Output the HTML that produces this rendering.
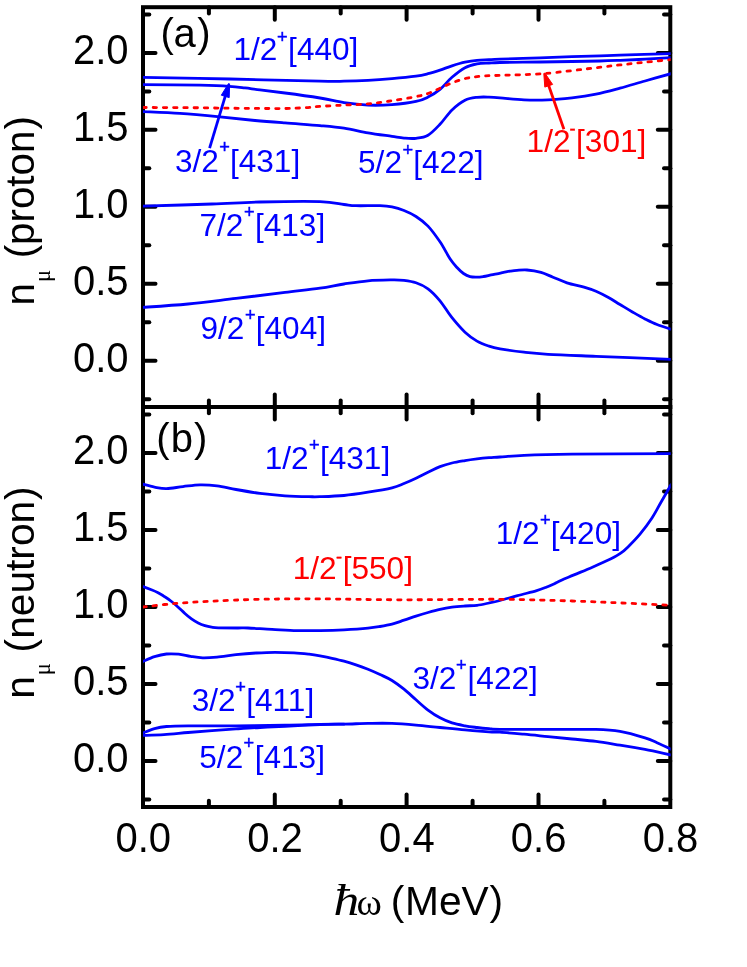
<!DOCTYPE html>
<html><head><meta charset="utf-8"><title>chart</title>
<style>
html,body{margin:0;padding:0;background:#fff;}
body{width:747px;height:967px;overflow:hidden;}
svg{display:block;will-change:transform;}
text{font-family:"Liberation Sans",sans-serif;}
.ax{font-size:40px;fill:#000;}
.lb{font-size:30px;}
.sup{font-size:19.5px;}
.ser{font-family:"Liberation Serif",serif;}
</style></head><body>
<svg width="747" height="967" viewBox="0 0 747 967">
<rect x="0" y="0" width="747" height="967" fill="#fff"/>
<defs>
<clipPath id="ca"><rect x="143.0" y="7.2" width="527.7" height="399.7"/></clipPath>
<clipPath id="cb"><rect x="143.0" y="406.9" width="527.7" height="400.1"/></clipPath>
</defs>
<g stroke="#000" stroke-width="4.0" fill="none" stroke-linecap="square">
<rect x="143.0" y="7.2" width="527.3" height="799.8"/>
<line x1="143.0" y1="406.9" x2="670.3" y2="406.9"/>
</g>
<g stroke="#000" stroke-width="4.0" stroke-linecap="round">
<line x1="208.9" y1="7.2" x2="208.9" y2="13.5"/>
<line x1="208.9" y1="400.6" x2="208.9" y2="413.2"/>
<line x1="208.9" y1="807.0" x2="208.9" y2="800.7"/>
<line x1="274.8" y1="7.2" x2="274.8" y2="19.7"/>
<line x1="274.8" y1="394.4" x2="274.8" y2="419.4"/>
<line x1="274.8" y1="807.0" x2="274.8" y2="794.5"/>
<line x1="340.7" y1="7.2" x2="340.7" y2="13.5"/>
<line x1="340.7" y1="400.6" x2="340.7" y2="413.2"/>
<line x1="340.7" y1="807.0" x2="340.7" y2="800.7"/>
<line x1="406.6" y1="7.2" x2="406.6" y2="19.7"/>
<line x1="406.6" y1="394.4" x2="406.6" y2="419.4"/>
<line x1="406.6" y1="807.0" x2="406.6" y2="794.5"/>
<line x1="472.6" y1="7.2" x2="472.6" y2="13.5"/>
<line x1="472.6" y1="400.6" x2="472.6" y2="413.2"/>
<line x1="472.6" y1="807.0" x2="472.6" y2="800.7"/>
<line x1="538.5" y1="7.2" x2="538.5" y2="19.7"/>
<line x1="538.5" y1="394.4" x2="538.5" y2="419.4"/>
<line x1="538.5" y1="807.0" x2="538.5" y2="794.5"/>
<line x1="604.4" y1="7.2" x2="604.4" y2="13.5"/>
<line x1="604.4" y1="400.6" x2="604.4" y2="413.2"/>
<line x1="604.4" y1="807.0" x2="604.4" y2="800.7"/>
<line x1="143.0" y1="399.2" x2="149.3" y2="399.2"/>
<line x1="670.3" y1="399.2" x2="664.0" y2="399.2"/>
<line x1="143.0" y1="360.7" x2="155.5" y2="360.7"/>
<line x1="670.3" y1="360.7" x2="657.8" y2="360.7"/>
<line x1="143.0" y1="322.2" x2="149.3" y2="322.2"/>
<line x1="670.3" y1="322.2" x2="664.0" y2="322.2"/>
<line x1="143.0" y1="283.8" x2="155.5" y2="283.8"/>
<line x1="670.3" y1="283.8" x2="657.8" y2="283.8"/>
<line x1="143.0" y1="245.3" x2="149.3" y2="245.3"/>
<line x1="670.3" y1="245.3" x2="664.0" y2="245.3"/>
<line x1="143.0" y1="206.8" x2="155.5" y2="206.8"/>
<line x1="670.3" y1="206.8" x2="657.8" y2="206.8"/>
<line x1="143.0" y1="168.3" x2="149.3" y2="168.3"/>
<line x1="670.3" y1="168.3" x2="664.0" y2="168.3"/>
<line x1="143.0" y1="129.8" x2="155.5" y2="129.8"/>
<line x1="670.3" y1="129.8" x2="657.8" y2="129.8"/>
<line x1="143.0" y1="91.4" x2="149.3" y2="91.4"/>
<line x1="670.3" y1="91.4" x2="664.0" y2="91.4"/>
<line x1="143.0" y1="52.9" x2="155.5" y2="52.9"/>
<line x1="670.3" y1="52.9" x2="657.8" y2="52.9"/>
<line x1="143.0" y1="14.4" x2="149.3" y2="14.4"/>
<line x1="670.3" y1="14.4" x2="664.0" y2="14.4"/>
<line x1="143.0" y1="799.4" x2="149.3" y2="799.4"/>
<line x1="670.3" y1="799.4" x2="664.0" y2="799.4"/>
<line x1="143.0" y1="760.9" x2="155.5" y2="760.9"/>
<line x1="670.3" y1="760.9" x2="657.8" y2="760.9"/>
<line x1="143.0" y1="722.4" x2="149.3" y2="722.4"/>
<line x1="670.3" y1="722.4" x2="664.0" y2="722.4"/>
<line x1="143.0" y1="683.9" x2="155.5" y2="683.9"/>
<line x1="670.3" y1="683.9" x2="657.8" y2="683.9"/>
<line x1="143.0" y1="645.5" x2="149.3" y2="645.5"/>
<line x1="670.3" y1="645.5" x2="664.0" y2="645.5"/>
<line x1="143.0" y1="607.0" x2="155.5" y2="607.0"/>
<line x1="670.3" y1="607.0" x2="657.8" y2="607.0"/>
<line x1="143.0" y1="568.5" x2="149.3" y2="568.5"/>
<line x1="670.3" y1="568.5" x2="664.0" y2="568.5"/>
<line x1="143.0" y1="530.0" x2="155.5" y2="530.0"/>
<line x1="670.3" y1="530.0" x2="657.8" y2="530.0"/>
<line x1="143.0" y1="491.6" x2="149.3" y2="491.6"/>
<line x1="670.3" y1="491.6" x2="664.0" y2="491.6"/>
<line x1="143.0" y1="453.1" x2="155.5" y2="453.1"/>
<line x1="670.3" y1="453.1" x2="657.8" y2="453.1"/>
<line x1="143.0" y1="414.6" x2="149.3" y2="414.6"/>
<line x1="670.3" y1="414.6" x2="664.0" y2="414.6"/>
</g>
<g clip-path="url(#ca)" fill="none" stroke-width="2.8" stroke-linejoin="round" stroke-linecap="round">
<path d="M143.0 77.3C157.5 77.6 200.5 78.3 230.0 79.0C259.5 79.7 301.0 80.8 320.0 81.2C339.0 81.6 336.0 81.4 344.0 81.2C352.0 81.0 360.0 80.7 368.0 80.3C376.0 79.9 384.0 79.3 392.0 78.6C400.0 77.9 410.0 76.9 416.0 76.1C422.0 75.3 424.0 74.7 428.0 73.7C432.0 72.7 436.0 71.4 440.0 70.1C444.0 68.8 447.8 67.1 452.0 65.8C456.2 64.5 460.8 63.1 465.0 62.2C469.2 61.3 473.0 60.7 477.0 60.3C481.0 59.9 485.2 59.9 489.0 59.7C492.8 59.5 491.5 59.5 500.0 59.2C508.5 58.9 528.0 58.2 540.0 57.8C552.0 57.4 562.0 57.0 572.0 56.7C582.0 56.4 592.0 56.1 600.0 55.8C608.0 55.5 608.2 55.5 620.0 55.1C631.8 54.8 662.5 53.9 671.0 53.7" stroke="#0000ff"/>
<path d="M143.0 84.6C152.5 84.7 185.7 84.9 200.0 85.2C214.3 85.5 221.5 85.8 229.0 86.3C236.5 86.8 239.8 87.3 245.0 87.9C250.2 88.5 253.3 89.1 260.0 89.9C266.7 90.8 275.0 91.7 285.0 93.0C295.0 94.3 310.2 96.4 320.0 98.0C329.8 99.6 336.0 101.5 344.0 102.7C352.0 103.9 360.0 104.8 368.0 105.1C376.0 105.4 384.0 105.2 392.0 104.6C400.0 104.0 410.0 102.7 416.0 101.4C422.0 100.2 424.0 99.1 428.0 97.1C432.0 95.1 436.0 92.7 440.0 89.4C444.0 86.1 447.8 80.9 452.0 77.3C456.2 73.7 460.8 69.9 465.0 67.7C469.2 65.5 473.0 64.7 477.0 63.9C481.0 63.1 485.2 63.2 489.0 63.0C492.8 62.8 491.5 62.7 500.0 62.5C508.5 62.3 528.0 62.2 540.0 62.0C552.0 61.8 562.0 61.7 572.0 61.5C582.0 61.3 592.0 61.2 600.0 61.0C608.0 60.8 612.5 60.6 620.0 60.3C627.5 60.0 636.5 59.6 645.0 59.2C653.5 58.8 666.7 58.0 671.0 57.7" stroke="#0000ff"/>
<path d="M143.0 107.5C152.5 107.5 182.2 107.6 200.0 107.8C217.8 108.0 235.8 108.3 250.0 108.4C264.2 108.5 275.8 108.6 285.0 108.5C294.2 108.4 299.2 108.0 305.0 107.7C310.8 107.4 313.5 106.8 320.0 106.4C326.5 106.0 336.0 105.5 344.0 105.1C352.0 104.7 360.0 104.6 368.0 103.9C376.0 103.2 384.0 101.9 392.0 100.7C400.0 99.5 410.0 97.8 416.0 96.6C422.0 95.4 424.0 94.9 428.0 93.5C432.0 92.1 436.0 90.0 440.0 88.2C444.0 86.4 447.8 84.5 452.0 82.9C456.2 81.3 460.8 79.6 465.0 78.6C469.2 77.5 473.0 77.1 477.0 76.6C481.0 76.1 485.2 75.9 489.0 75.7C492.8 75.5 490.9 75.7 500.0 75.3C509.1 74.9 527.7 74.9 543.7 73.6C559.7 72.3 583.3 69.2 596.0 67.7C608.7 66.2 611.8 65.8 620.0 64.9C628.2 64.0 636.5 63.1 645.0 62.2C653.5 61.3 666.7 60.0 671.0 59.6" stroke="#ff0000" stroke-dasharray="3.4 6.8"/>
<path d="M143.0 111.6C149.2 111.9 167.2 112.5 180.0 113.4C192.8 114.3 207.5 115.7 220.0 116.9C232.5 118.1 244.2 119.5 255.0 120.5C265.8 121.5 274.2 122.1 285.0 122.9C295.8 123.8 310.2 124.7 320.0 125.6C329.8 126.5 336.0 127.0 344.0 128.2C352.0 129.4 360.0 131.4 368.0 132.8C376.0 134.2 386.0 135.5 392.0 136.4C398.0 137.3 400.0 137.8 404.0 138.1C408.0 138.4 412.0 138.8 416.0 138.3C420.0 137.8 424.0 137.5 428.0 135.2C432.0 132.9 436.0 128.5 440.0 124.3C444.0 120.1 447.8 113.9 452.0 109.9C456.2 105.9 460.8 102.3 465.0 100.2C469.2 98.1 473.0 97.8 477.0 97.3C481.0 96.8 485.2 97.0 489.0 97.1C492.8 97.2 494.2 97.3 500.0 97.8C505.8 98.2 516.0 99.5 524.0 99.8C532.0 100.1 540.0 100.1 548.0 99.8C556.0 99.5 564.0 98.7 572.0 97.8C580.0 96.9 588.0 95.8 596.0 94.2C604.0 92.6 611.8 90.4 620.0 88.2C628.2 86.0 636.5 83.4 645.0 81.0C653.5 78.6 666.7 74.9 671.0 73.7" stroke="#0000ff"/>
<path d="M143.0 206.1C154.5 205.8 192.5 204.7 212.0 204.0C231.5 203.3 242.0 202.4 260.0 202.0C278.0 201.6 306.0 201.2 320.0 201.6C334.0 202.0 338.0 203.8 344.0 204.5C350.0 205.2 350.0 205.5 356.0 205.7C362.0 205.9 374.0 205.5 380.0 205.7C386.0 205.9 388.0 206.1 392.0 206.9C396.0 207.7 400.0 208.9 404.0 210.5C408.0 212.1 412.0 213.9 416.0 216.5C420.0 219.1 424.0 221.9 428.0 226.1C432.0 230.3 436.3 236.4 440.0 241.8C443.7 247.2 447.2 254.5 450.0 258.8C452.8 263.1 454.8 265.1 457.0 267.5C459.2 269.9 461.3 272.0 463.5 273.5C465.7 275.0 467.8 276.0 470.0 276.6C472.2 277.2 474.8 277.1 477.0 277.1C479.2 277.1 481.3 276.8 483.5 276.5C485.7 276.2 487.8 275.6 490.0 275.1C492.2 274.7 494.7 274.2 497.0 273.8C499.3 273.4 501.4 272.8 503.6 272.4C505.8 272.0 507.8 271.5 510.0 271.2C512.2 270.9 514.2 270.6 517.0 270.4C519.8 270.2 523.0 269.7 527.0 270.0C531.0 270.3 536.7 271.2 541.0 272.4C545.3 273.6 548.7 275.5 553.0 277.2C557.3 278.9 561.8 281.1 567.0 282.8C572.2 284.5 579.2 285.7 584.0 287.1C588.8 288.5 592.0 289.5 596.0 291.2C600.0 292.9 604.0 295.0 608.0 297.2C612.0 299.4 616.0 302.1 620.0 304.5C624.0 306.9 627.8 309.3 632.0 311.7C636.2 314.1 640.8 316.8 645.0 318.9C649.2 321.0 652.7 322.8 657.0 324.5C661.3 326.2 668.7 328.5 671.0 329.3" stroke="#0000ff"/>
<path d="M143.0 307.3C150.5 306.8 172.5 305.5 188.0 304.0C203.5 302.5 219.8 300.3 236.0 298.4C252.2 296.5 271.0 294.1 285.0 292.4C299.0 290.7 310.2 289.6 320.0 288.2C329.8 286.8 336.0 285.2 344.0 284.0C352.0 282.8 360.0 281.5 368.0 280.8C376.0 280.1 386.0 280.0 392.0 279.9C398.0 279.8 400.0 279.9 404.0 280.4C408.0 280.9 412.0 281.4 416.0 282.8C420.0 284.2 424.0 285.8 428.0 288.8C432.0 291.8 436.0 296.0 440.0 300.8C444.0 305.6 447.8 312.5 452.0 317.7C456.2 322.9 460.8 328.3 465.0 332.2C469.2 336.1 473.0 338.8 477.0 341.1C481.0 343.4 485.2 344.8 489.0 346.1C492.8 347.4 494.2 347.8 500.0 348.8C505.8 349.8 516.0 351.3 524.0 352.2C532.0 353.1 536.0 353.6 548.0 354.3C560.0 355.0 575.5 355.5 596.0 356.3C616.5 357.1 658.5 358.9 671.0 359.4" stroke="#0000ff"/>
</g>
<g clip-path="url(#cb)" fill="none" stroke-width="2.8" stroke-linejoin="round" stroke-linecap="round">
<path d="M143.0 484.2C144.9 484.7 150.6 486.4 154.5 487.1C158.4 487.8 161.8 488.7 166.5 488.6C171.2 488.5 177.4 487.2 183.0 486.6C188.6 486.0 194.3 485.0 200.0 484.9C205.7 484.8 211.0 485.1 217.0 485.9C223.0 486.7 228.8 488.2 236.0 489.5C243.2 490.8 251.8 492.3 260.0 493.4C268.2 494.4 276.8 495.2 285.0 495.8C293.2 496.4 303.2 496.6 309.0 496.7C314.8 496.8 314.2 496.9 320.0 496.7C325.8 496.5 336.0 496.2 344.0 495.5C352.0 494.8 360.0 493.5 368.0 492.2C376.0 490.9 386.0 489.2 392.0 487.8C398.0 486.4 400.0 485.1 404.0 483.5C408.0 481.9 412.0 480.1 416.0 478.2C420.0 476.3 424.0 474.1 428.0 472.2C432.0 470.3 436.0 468.1 440.0 466.6C444.0 465.1 447.8 464.0 452.0 463.0C456.2 462.0 460.8 461.3 465.0 460.6C469.2 459.9 473.0 459.4 477.0 458.9C481.0 458.4 485.2 458.0 489.0 457.7C492.8 457.4 494.2 457.4 500.0 457.0C505.8 456.6 512.0 455.8 524.0 455.3C536.0 454.8 547.5 454.4 572.0 454.1C596.5 453.8 654.5 453.7 671.0 453.6" stroke="#0000ff"/>
<path d="M143.0 586.6C144.4 587.1 148.9 588.8 151.4 589.8C153.9 590.8 155.9 591.6 158.1 592.8C160.3 594.0 162.6 595.3 164.8 596.8C167.0 598.2 169.3 599.8 171.5 601.5C173.7 603.2 176.0 605.2 178.2 607.2C180.4 609.2 182.7 611.5 184.9 613.5C187.1 615.5 189.3 617.3 191.5 618.9C193.7 620.5 196.0 621.8 198.2 622.9C200.4 624.0 202.7 624.9 204.9 625.6C207.1 626.3 209.4 626.8 211.6 627.2C213.8 627.6 213.9 627.8 218.3 627.9C222.7 628.0 233.1 628.0 238.0 628.0C242.9 628.0 242.3 627.8 248.0 628.0C253.7 628.2 263.8 629.0 272.0 629.4C280.2 629.8 289.0 630.4 297.0 630.6C305.0 630.8 312.2 630.7 320.0 630.6C327.8 630.5 336.0 630.3 344.0 629.9C352.0 629.5 362.0 628.8 368.0 628.2C374.0 627.6 376.0 627.2 380.0 626.5C384.0 625.8 388.0 625.1 392.0 624.1C396.0 623.1 400.0 621.5 404.0 620.2C408.0 618.9 412.0 617.4 416.0 616.1C420.0 614.8 424.0 613.6 428.0 612.5C432.0 611.4 436.0 610.3 440.0 609.4C444.0 608.5 447.8 607.8 452.0 607.2C456.2 606.6 460.8 606.3 465.0 606.0C469.2 605.7 473.0 605.8 477.0 605.3C481.0 604.8 485.2 603.8 489.0 603.0C492.8 602.2 495.2 601.7 500.0 600.5C504.8 599.3 511.5 597.2 517.5 595.6C523.5 594.0 531.3 592.2 536.0 590.9C540.7 589.5 542.4 588.8 545.6 587.5C548.8 586.2 551.9 584.8 555.0 583.4C558.1 582.0 560.8 580.4 564.0 579.0C567.2 577.6 569.3 576.9 574.0 574.9C578.7 572.9 586.2 569.9 592.4 567.2C598.6 564.5 606.4 561.0 611.0 558.8C615.6 556.5 617.2 555.7 620.0 553.7C622.8 551.7 624.7 550.2 628.0 546.9C631.3 543.6 636.0 538.9 640.0 534.1C644.0 529.3 648.5 523.3 652.0 518.0C655.5 512.7 657.8 507.8 661.0 502.3C664.2 496.8 669.3 487.7 671.0 484.8" stroke="#0000ff"/>
<path d="M143.0 607.0C148.5 606.4 164.5 604.4 176.0 603.4C187.5 602.4 198.0 601.9 212.0 601.2C226.0 600.5 242.0 599.7 260.0 599.3C278.0 598.9 296.7 598.8 320.0 598.9C343.3 599.0 370.0 599.7 400.0 599.8C430.0 599.9 471.3 599.1 500.0 599.3C528.7 599.5 552.0 600.4 572.0 601.0C592.0 601.6 603.5 602.2 620.0 602.9C636.5 603.6 662.5 604.9 671.0 605.3" stroke="#ff0000" stroke-dasharray="3.4 6.8"/>
<path d="M143.0 661.4C144.9 660.6 150.6 657.8 154.5 656.6C158.4 655.4 162.5 654.4 166.5 654.0C170.5 653.6 174.6 653.8 178.6 654.2C182.6 654.6 186.6 655.8 190.6 656.4C194.6 657.0 198.3 657.7 202.7 657.8C207.1 657.9 211.4 657.6 217.0 657.1C222.6 656.6 229.5 655.4 236.0 654.7C242.5 654.0 249.5 653.4 256.0 653.0C262.5 652.6 268.7 652.3 275.0 652.3C281.3 652.3 288.3 652.5 294.0 652.8C299.7 653.1 304.7 653.7 309.0 654.2C313.3 654.7 316.2 655.2 320.0 655.9C323.8 656.6 328.0 657.4 332.0 658.3C336.0 659.2 340.0 660.1 344.0 661.2C348.0 662.3 352.0 663.5 356.0 664.8C360.0 666.1 364.0 667.6 368.0 669.2C372.0 670.8 376.0 672.6 380.0 674.5C384.0 676.4 388.0 678.0 392.0 680.5C396.0 683.0 400.0 686.0 404.0 689.2C408.0 692.4 412.0 696.3 416.0 699.8C420.0 703.3 424.0 707.1 428.0 710.1C432.0 713.1 436.0 715.7 440.0 717.8C444.0 719.9 447.8 721.6 452.0 722.9C456.2 724.2 460.8 725.0 465.0 725.8C469.2 726.6 473.0 727.0 477.0 727.5C481.0 728.0 485.2 728.4 489.0 728.7C492.8 729.0 490.2 729.3 500.0 729.4C509.8 729.5 532.0 729.4 548.0 729.4C564.0 729.4 584.0 729.1 596.0 729.4C608.0 729.7 611.8 729.9 620.0 731.3C628.2 732.7 638.8 735.9 645.0 737.8C651.2 739.7 652.7 740.8 657.0 742.7C661.3 744.6 668.7 748.1 671.0 749.2" stroke="#0000ff"/>
<path d="M143.0 733.0C144.9 732.3 150.6 729.8 154.5 728.7C158.4 727.6 160.9 727.0 166.5 726.5C172.1 726.0 176.4 725.9 188.0 725.8C199.6 725.7 219.8 725.9 236.0 725.8C252.2 725.7 271.0 725.4 285.0 725.1C299.0 724.9 310.2 724.5 320.0 724.3C329.8 724.1 336.0 724.2 344.0 724.1C352.0 724.0 360.0 723.5 368.0 723.4C376.0 723.3 384.0 723.1 392.0 723.4C400.0 723.7 408.0 724.4 416.0 725.1C424.0 725.8 431.8 726.7 440.0 727.5C448.2 728.3 456.8 729.2 465.0 729.9C473.2 730.6 483.2 731.4 489.0 731.8C494.8 732.2 494.2 731.8 500.0 732.2C505.8 732.6 516.0 733.5 524.0 734.2C532.0 734.9 540.0 735.8 548.0 736.6C556.0 737.4 564.0 738.2 572.0 739.0C580.0 739.8 588.0 740.4 596.0 741.4C604.0 742.4 611.8 743.8 620.0 745.1C628.2 746.4 636.5 747.8 645.0 749.4C653.5 751.0 666.7 754.1 671.0 755.0" stroke="#0000ff"/>
<path d="M143.0 735.4C146.5 735.3 156.5 735.2 164.0 734.7C171.5 734.2 180.0 733.2 188.0 732.5C196.0 731.8 204.0 731.2 212.0 730.6C220.0 730.0 228.0 729.4 236.0 728.9C244.0 728.4 251.8 727.9 260.0 727.5C268.2 727.1 275.0 726.8 285.0 726.3C295.0 725.8 310.2 725.0 320.0 724.6C329.8 724.2 340.0 724.2 344.0 724.1" stroke="#0000ff"/>
</g>
<line x1="209.6" y1="148.2" x2="225.5" y2="95.4" stroke="#0000ff" stroke-width="2.8"/>
<polygon points="228.5,83.6 229.6,83.9 229.2,97.6 221.3,95.2" fill="#0000ff" stroke="#0000ff" stroke-width="1" stroke-linejoin="round"/>
<line x1="563.9" y1="129.2" x2="548.4" y2="84.8" stroke="#ff0000" stroke-width="2.8"/>
<polygon points="543.8,73.5 544.9,73.1 552.6,84.4 544.8,87.1" fill="#ff0000" stroke="#ff0000" stroke-width="1" stroke-linejoin="round"/>
<text transform="translate(233.48 60.30) scale(1 1.020)" font-size="31.6" fill="#0000ff">1/2</text>
<text transform="translate(288.11 60.30) scale(1 1.020)" font-size="31.6" fill="#0000ff">[440]</text>
<text x="277.09" y="42.85" font-size="18.2" fill="#0000ff" stroke="#0000ff" stroke-width="0.45">+</text>
<text transform="translate(175.03 172.00) scale(1 1.020)" font-size="31.6" fill="#0000ff">3/2</text>
<text transform="translate(229.96 172.00) scale(1 1.020)" font-size="31.6" fill="#0000ff">[431]</text>
<text x="219.29" y="153.45" font-size="18.2" fill="#0000ff" stroke="#0000ff" stroke-width="0.45">+</text>
<text transform="translate(358.05 172.90) scale(1 1.020)" font-size="31.6" fill="#0000ff">5/2</text>
<text transform="translate(413.26 172.90) scale(1 1.020)" font-size="31.6" fill="#0000ff">[422]</text>
<text x="402.39" y="156.15" font-size="18.2" fill="#0000ff" stroke="#0000ff" stroke-width="0.45">+</text>
<text transform="translate(526.58 151.80) scale(1 1.020)" font-size="31.6" fill="#ff0000">1/2</text>
<text transform="translate(576.06 151.80) scale(1 1.020)" font-size="31.6" fill="#ff0000">[301]</text>
<text x="569.57" y="135.23" font-size="18.2" fill="#ff0000" stroke="#ff0000" stroke-width="0.45">-</text>
<text transform="translate(199.42 236.00) scale(1 1.020)" font-size="31.6" fill="#0000ff">7/2</text>
<text transform="translate(254.96 236.00) scale(1 1.020)" font-size="31.6" fill="#0000ff">[413]</text>
<text x="243.89" y="218.45" font-size="18.2" fill="#0000ff" stroke="#0000ff" stroke-width="0.45">+</text>
<text transform="translate(200.49 339.30) scale(1 1.020)" font-size="31.6" fill="#0000ff">9/2</text>
<text transform="translate(255.76 339.30) scale(1 1.020)" font-size="31.6" fill="#0000ff">[404]</text>
<text x="244.89" y="321.05" font-size="18.2" fill="#0000ff" stroke="#0000ff" stroke-width="0.45">+</text>
<text transform="translate(264.73 468.70) scale(1 1.020)" font-size="31.6" fill="#0000ff">1/2</text>
<text transform="translate(319.96 468.70) scale(1 1.020)" font-size="31.6" fill="#0000ff">[431]</text>
<text x="308.89" y="451.05" font-size="18.2" fill="#0000ff" stroke="#0000ff" stroke-width="0.45">+</text>
<text transform="translate(292.78 579.30) scale(1 1.020)" font-size="31.6" fill="#ff0000">1/2</text>
<text transform="translate(342.66 579.30) scale(1 1.020)" font-size="31.6" fill="#ff0000">[550]</text>
<text x="335.97" y="563.13" font-size="18.2" fill="#ff0000" stroke="#ff0000" stroke-width="0.45">-</text>
<text transform="translate(495.78 543.90) scale(1 1.020)" font-size="31.6" fill="#0000ff">1/2</text>
<text transform="translate(550.76 543.90) scale(1 1.020)" font-size="31.6" fill="#0000ff">[420]</text>
<text x="539.89" y="526.05" font-size="18.2" fill="#0000ff" stroke="#0000ff" stroke-width="0.45">+</text>
<text transform="translate(412.38 688.90) scale(1 1.020)" font-size="31.6" fill="#0000ff">3/2</text>
<text transform="translate(467.56 688.90) scale(1 1.020)" font-size="31.6" fill="#0000ff">[422]</text>
<text x="455.89" y="671.05" font-size="18.2" fill="#0000ff" stroke="#0000ff" stroke-width="0.45">+</text>
<text transform="translate(191.68 710.90) scale(1 1.020)" font-size="31.6" fill="#0000ff">3/2</text>
<text transform="translate(246.26 710.90) scale(1 1.020)" font-size="31.6" fill="#0000ff">[411]</text>
<text x="235.29" y="693.45" font-size="18.2" fill="#0000ff" stroke="#0000ff" stroke-width="0.45">+</text>
<text transform="translate(199.30 767.70) scale(1 1.020)" font-size="31.6" fill="#0000ff">5/2</text>
<text transform="translate(254.66 767.70) scale(1 1.020)" font-size="31.6" fill="#0000ff">[413]</text>
<text x="243.49" y="749.45" font-size="18.2" fill="#0000ff" stroke="#0000ff" stroke-width="0.45">+</text>
<text class="ax" x="160.6" y="47.3">(<tspan dx="-0.4">a</tspan><tspan dx="1.4">)</tspan></text>
<text class="ax" x="156.2" y="451.9">(<tspan dx="1.2">b</tspan><tspan dx="1.0">)</tspan></text>
<text transform="translate(128.60 371.70) scale(1 1.040)" font-size="40.0" fill="#000" text-anchor="end">0.0</text>
<text transform="translate(128.60 294.75) scale(1 1.040)" font-size="40.0" fill="#000" text-anchor="end">0.5</text>
<text transform="translate(128.60 217.80) scale(1 1.040)" font-size="40.0" fill="#000" text-anchor="end">1.0</text>
<text transform="translate(128.60 140.85) scale(1 1.040)" font-size="40.0" fill="#000" text-anchor="end">1.5</text>
<text transform="translate(128.60 63.90) scale(1 1.040)" font-size="40.0" fill="#000" text-anchor="end">2.0</text>
<text transform="translate(128.60 771.90) scale(1 1.040)" font-size="40.0" fill="#000" text-anchor="end">0.0</text>
<text transform="translate(128.60 694.95) scale(1 1.040)" font-size="40.0" fill="#000" text-anchor="end">0.5</text>
<text transform="translate(128.60 618.00) scale(1 1.040)" font-size="40.0" fill="#000" text-anchor="end">1.0</text>
<text transform="translate(128.60 541.05) scale(1 1.040)" font-size="40.0" fill="#000" text-anchor="end">1.5</text>
<text transform="translate(128.60 464.10) scale(1 1.040)" font-size="40.0" fill="#000" text-anchor="end">2.0</text>
<text transform="translate(143.20 852.20) scale(1 1.040)" font-size="40.0" fill="#000" text-anchor="middle">0.0</text>
<text transform="translate(275.02 852.20) scale(1 1.040)" font-size="40.0" fill="#000" text-anchor="middle">0.2</text>
<text transform="translate(406.85 852.20) scale(1 1.040)" font-size="40.0" fill="#000" text-anchor="middle">0.4</text>
<text transform="translate(538.67 852.20) scale(1 1.040)" font-size="40.0" fill="#000" text-anchor="middle">0.6</text>
<text transform="translate(670.50 852.20) scale(1 1.040)" font-size="40.0" fill="#000" text-anchor="middle">0.8</text>
<text class="ser" transform="translate(333.6 914.6) scale(1.20 1.04)" font-style="italic" font-size="43" fill="#000">&#295;</text>
<text class="ser" x="356.6" y="914.6" font-size="38.5" fill="#000">&#969;</text>
<text x="390.7" y="914.8" font-size="40.7" fill="#000">(<tspan dx="0.8">MeV</tspan><tspan dx="0.8">)</tspan></text>
<text font-size="40.3" fill="#000" transform="translate(33.9 305.4) rotate(-90)">n<tspan class="ser" font-size="22.5" dy="16" dx="1.0">&#956;</tspan><tspan dy="-16" dx="0.4"> (proton</tspan><tspan dx="1.2">)</tspan></text>
<text font-size="40.7" fill="#000" transform="translate(33.9 698.8) rotate(-90)">n<tspan class="ser" font-size="22.5" dy="16" dx="1.0">&#956;</tspan><tspan dy="-16" dx="-0.6"> (neutron</tspan><tspan dx="0.8">)</tspan></text>
</svg></body></html>
